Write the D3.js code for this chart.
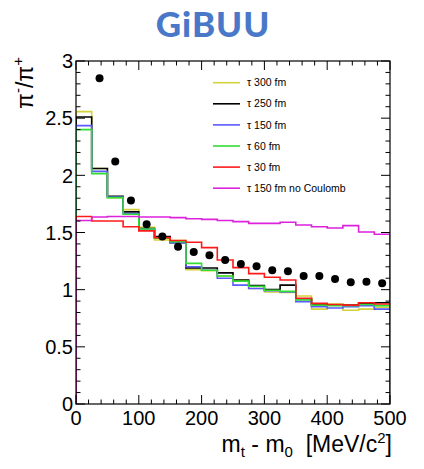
<!DOCTYPE html>
<html><head><meta charset="utf-8">
<script src="https://cdn.jsdelivr.net/npm/d3@7"></script>
<style>body{margin:0;background:#fff;}svg{display:block;}</style>
</head><body>
<script>
// ---- data ----
const binStart = [0,25,50,75,100,125,150,175,200,225,250,275,300,325,350,375,400,425,450,475];
const binWidth = 25;
const tau300 = [2.557,2.06,1.805,1.70,1.545,1.435,1.43,1.175,1.165,1.12,1.08,1.01,0.98,0.975,0.945,0.83,0.875,0.82,0.83,0.845];
const tau250 = [2.51,2.06,1.817,1.68,1.535,1.465,1.41,1.19,1.19,1.147,1.085,1.035,1.0,1.04,0.92,0.87,0.865,0.866,0.88,0.885];
const tau150 = [2.435,2.035,1.81,1.665,1.53,1.45,1.41,1.20,1.17,1.10,1.04,1.01,0.99,0.98,0.895,0.85,0.84,0.85,0.86,0.83];
const tau60  = [2.40,2.015,1.805,1.66,1.53,1.45,1.42,1.23,1.17,1.12,1.075,1.03,0.995,0.985,0.91,0.865,0.86,0.86,0.87,0.86];
const tau30  = [1.64,1.60,1.60,1.55,1.514,1.455,1.43,1.415,1.368,1.26,1.193,1.14,1.108,1.085,0.925,0.88,0.87,0.865,0.886,0.875];
const tau150NoCoulomb = [1.605,1.635,1.64,1.64,1.635,1.635,1.63,1.62,1.615,1.605,1.595,1.58,1.58,1.59,1.565,1.55,1.54,1.56,1.505,1.485];
const dataX = [37.5,62.5,87.5,112.5,137.5,162.5,187.5,212.5,237.5,262.5,287.5,312.5,337.5,362.5,387.5,412.5,437.5,462.5,487.5];
const dataY = [2.85,2.12,1.78,1.572,1.464,1.376,1.33,1.30,1.26,1.225,1.205,1.17,1.16,1.12,1.12,1.094,1.065,1.07,1.056];
const seriesNames = ["\u03c4 300 fm","\u03c4 250 fm","\u03c4 150 fm","\u03c4 60 fm","\u03c4 30 fm","\u03c4 150 fm no Coulomb"];
const seriesValues = [tau300,tau250,tau150,tau60,tau30,tau150NoCoulomb];
const seriesColors = ["#d2d23a","#000000","#5a5aff","#33dd33","#ff1a1a","#dd22dd"];
const xMajor = [0,100,200,300,400,500];
const yMajor = [0,0.5,1,1.5,2,2.5,3];

// ---- layout ----
const W = 424, H = 469;
const m = {left:76, right:390, top:61, bottom:404};
const svg = d3.select("body").append("svg").attr("width",W).attr("height",H);
const x = d3.scaleLinear().domain([0,500]).range([m.left,m.right]);
const y = d3.scaleLinear().domain([0,3]).range([m.bottom,m.top]);
const font = "'Liberation Sans', Arial, Helvetica, sans-serif";

// title
svg.append("text").attr("x",213).attr("y",37).attr("text-anchor","middle")
  .attr("font-family","Lato, 'Open Sans', sans-serif").attr("font-weight",900)
  .attr("font-size",35).attr("letter-spacing",1).attr("fill","#4a78c8").text("GiBUU");

svg.append("defs").append("clipPath").attr("id","clip")
  .append("rect").attr("x",m.left).attr("y",m.top).attr("width",m.right-m.left).attr("height",m.bottom-m.top);

// histograms
const g = svg.append("g").attr("clip-path","url(#clip)");
seriesValues.forEach((vals,i)=>{
  const pts = [[0,0]];
  vals.forEach((v,k)=>{ pts.push([binStart[k],v]); pts.push([binStart[k]+binWidth,v]); });
  pts.push([500,0]);
  g.append("path")
    .attr("d", d3.line().x(d=>x(d[0])).y(d=>y(d[1]))(pts))
    .attr("fill","none").attr("stroke",seriesColors[i]).attr("stroke-width",1.6);
});

// data points
svg.append("g").selectAll("circle").data(dataX).join("circle")
  .attr("cx",(d)=>x(d)).attr("cy",(d,i)=>y(dataY[i])).attr("r",4).attr("fill","#000");

// frame
svg.append("rect").attr("x",m.left).attr("y",m.top).attr("width",m.right-m.left).attr("height",m.bottom-m.top)
  .attr("fill","none").attr("stroke","#000").attr("stroke-width",1.2);

// ticks
const tk = svg.append("g").attr("stroke","#000").attr("stroke-width",1);
d3.range(0,501,20).forEach(v=>{
  const L = (v%100===0)?9:4.5;
  tk.append("line").attr("x1",x(v)).attr("x2",x(v)).attr("y1",m.bottom).attr("y2",m.bottom-L);
  tk.append("line").attr("x1",x(v)).attr("x2",x(v)).attr("y1",m.top).attr("y2",m.top+L);
});
d3.range(0,31,1).forEach(k=>{
  const v = k/10, L = (k%5===0)?9:4.5;
  tk.append("line").attr("y1",y(v)).attr("y2",y(v)).attr("x1",m.left).attr("x2",m.left+L);
  tk.append("line").attr("y1",y(v)).attr("y2",y(v)).attr("x1",m.right).attr("x2",m.right-L);
});

// tick labels
svg.append("g").selectAll("text").data(xMajor).join("text")
  .attr("x",d=>x(d)).attr("y",425).attr("text-anchor","middle")
  .attr("font-family",font).attr("font-size",20).text(d=>d);
svg.append("g").selectAll("text").data(yMajor).join("text")
  .attr("x",73).attr("y",d=>y(d)).attr("dy","0.36em").attr("text-anchor","end")
  .attr("font-family",font).attr("font-size",20).text(d=>d3.format("~g")(d));

// axis titles
const xt = svg.append("text").attr("x",392).attr("y",452).attr("text-anchor","end")
  .attr("font-family",font).attr("font-size",23);
xt.append("tspan").text("m");
xt.append("tspan").attr("font-size",15).attr("dy",5).text("t");
xt.append("tspan").attr("dy",-5).text(" - m");
xt.append("tspan").attr("font-size",15).attr("dy",5).text("0");
xt.append("tspan").attr("dy",-5).text("\u00a0 [MeV/c");
xt.append("tspan").attr("font-size",15).attr("dy",-9).text("2");
xt.append("tspan").attr("dy",9).text("]");

const yt = svg.append("text").attr("transform","translate(33,57) rotate(-90)").attr("text-anchor","end")
  .attr("font-family",font).attr("font-size",23);
yt.append("tspan").text("\u03c0");
yt.append("tspan").attr("font-size",15).attr("dy",-10).text("-");
yt.append("tspan").attr("dy",10).text("/\u03c0");
yt.append("tspan").attr("font-size",15).attr("dy",-10).text("+");

// legend
const lg = svg.append("g");
seriesNames.forEach((n,i)=>{
  const yy = 82.7 + 21.1*i;
  lg.append("line").attr("x1",213).attr("x2",240).attr("y1",yy).attr("y2",yy)
    .attr("stroke",seriesColors[i]).attr("stroke-width",1.6);
  lg.append("text").attr("x",247).attr("y",yy).attr("dy","0.35em")
    .attr("font-family",font).attr("font-size",10.5).text(n);
});
</script>
</body></html>
